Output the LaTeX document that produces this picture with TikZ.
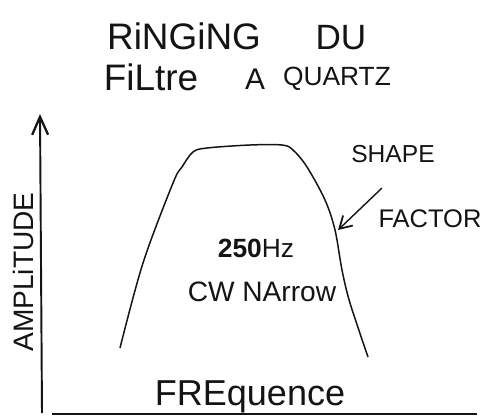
\documentclass[tikz,border=0pt]{standalone}
\usepackage{fontspec}
\setmainfont{Liberation Sans}
\usetikzlibrary{arrows.meta}
\definecolor{InkBlack}{HTML}{141414}
\tikzset{
  handtext/.style={font=\fontsize{#1}{#1}\selectfont\color{InkBlack}, inner sep=0pt},
  axisline/.style={draw=InkBlack, line width=1.1pt},
  axisarrow/.style={-{Straight Barb[length=3.6mm,width=3.2mm,line width=1.3pt]}, draw=InkBlack, line width=1.1pt},
  passband/.style={draw=InkBlack, line width=0.85pt, line join=round},
  pointer/.style={-{Straight Barb[length=2.4mm,width=2.8mm,line width=1pt]}, draw=InkBlack, line width=0.8pt},
}

\begin{document}
\begin{tikzpicture}[x=0.02cm, y=-0.02cm]
  \useasboundingbox (0,0) rectangle (493,417);

  % title
  \node[handtext=21] (ringing) at (184,36) {RiNGiNG};
  \node[handtext=20] (du) at (341,38) {DU};
  \node[handtext=21] (filtre) at (151,77) {FiLtre};
  \node[handtext=17] (a) at (255,79) {A};
  \node[handtext=15] (quartz) at (337,79) {QUARTZ};

  % axes
  \coordinate (ybottom) at (42,413);
  \coordinate (ytop) at (40,114);
  \coordinate (xleft) at (52,414);
  \coordinate (xright) at (477,414);
  \draw[axisarrow] (ybottom) -- (ytop);
  \draw[axisline] (xleft) -- (xright);
  \node[handtext=16, rotate=90] (amplitude) at (23,272) {AMPLiTUDE};
  \node[handtext=20.5] (frequence) at (250,397) {FREquence};

  % filter response
  \draw[passband] plot[smooth, tension=0.55] coordinates {
    (120,348) (143,263) (173,183) (182,167) (193,152) (207,148) (250,145)
    (282,145) (293,150) (307,167) (325,200) (335,230) (342,270) (350,303) (368,357)};

  \node[handtext=15] (bw) at (256,248) {\textbf{250}Hz};
  \node[handtext=16] (cw) at (262,292) {CW NArrow};

  % shape factor
  \node[handtext=14] (shape) at (393,154) {SHAPE};
  \node[handtext=14.5] (factor) at (430,219) {FACTOR};
  \coordinate (sfstart) at (382,188);
  \coordinate (sfend) at (338,230);
  \draw[pointer] (sfstart) -- (sfend);

\end{tikzpicture}
\end{document}
